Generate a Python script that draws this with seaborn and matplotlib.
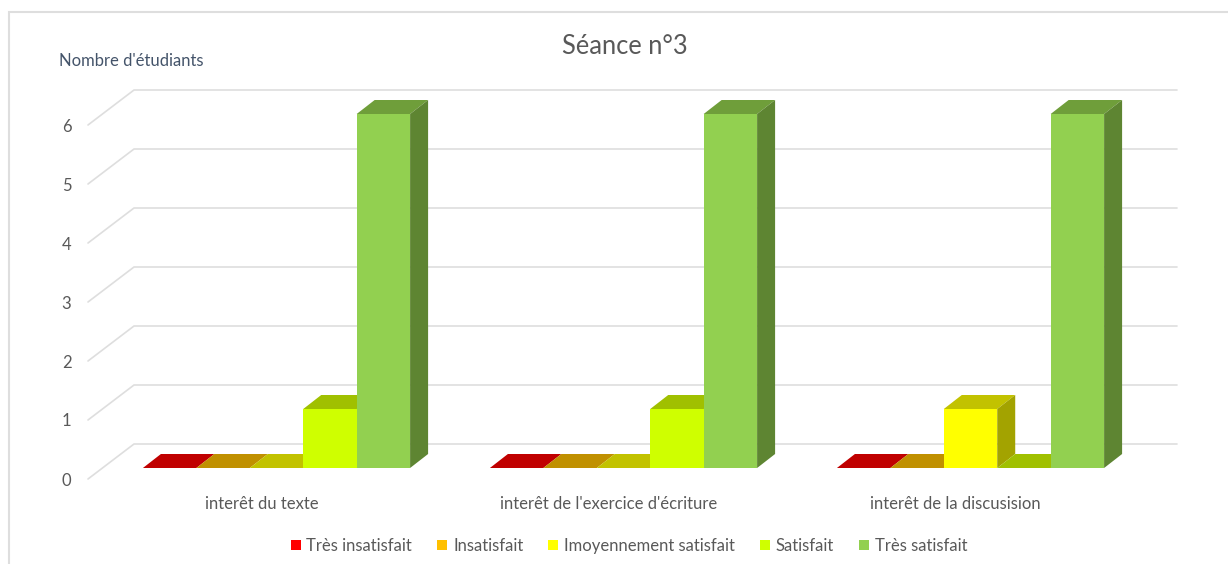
import matplotlib
matplotlib.use("Agg")
import matplotlib.pyplot as plt
from matplotlib.patches import Polygon, Rectangle
from matplotlib.transforms import Affine2D
import pandas as pd
import seaborn as sns

categories = ["interêt du texte", "interêt de l'exercice d'écriture", "interêt de la discusision"]
levels = ["Très insatisfait", "Insatisfait", "Imoyennement satisfait", "Satisfait", "Très satisfait"]
values_tres_insatisfait = [0, 0, 0]
values_insatisfait = [0, 0, 0]
values_moyen = [0, 0, 1]
values_satisfait = [1, 1, 0]
values_tres_satisfait = [6, 6, 6]
front_colors = ["#FF0000", "#FFC000", "#FFFF00", "#CFFF00", "#92D050"]
top_colors = ["#C00000", "#C09000", "#C2C200", "#A0C000", "#6F9E3A"]
side_colors = ["#9A0000", "#9A7400", "#A3A300", "#80A000", "#5E8532"]

W, H = 1228, 564
DPI = 100
sns.set_theme(style="white")
plt.rcParams["font.family"] = ["Lato", "DejaVu Sans"]
TXT = "#595959"

rows = []
for lvl, vals in zip(levels, [values_tres_insatisfait, values_insatisfait, values_moyen,
                              values_satisfait, values_tres_satisfait]):
    for c, v in zip(categories, vals):
        rows.append({"cat": c, "level": lvl, "n": v})
df = pd.DataFrame(rows)

fig = plt.figure(figsize=(W / DPI, H / DPI), dpi=DPI, facecolor="white")
# front plane of the value axis: x 88..1129, y=0 at px 479, y=6 at px 125
ax = fig.add_axes([88 / W, 1 - 479 / H, (1129 - 88) / W, (479 - 125) / H])
sns.barplot(df, x="cat", y="n", hue="level", order=categories, hue_order=levels,
            palette=front_colors, width=0.77, gap=0, saturation=1, ax=ax, legend=False)
ax.set_xlim(-0.5, 2.5)
ax.set_ylim(0, 6)
ax.set_xlabel("")
ax.set_ylabel("")
for s in ax.spines.values():
    s.set_visible(False)
ax.patch.set_visible(False)
ax.tick_params(axis="both", length=0, labelsize=12, labelcolor=TXT)
ax.tick_params(axis="x", pad=12)
ax.tick_params(axis="y", pad=12)
ax.set_yticks(range(7))
ax.grid(False)

# oblique projection, in pixels
bar_dx, bar_dy = 15, 11       # bars stand a little behind the front plane
depth_x, depth_y = 18, 14     # depth of a bar
wall_x, wall_y = 46, 35       # depth of the floor

to_bar = ax.transData + Affine2D().translate(bar_dx, bar_dy)
disp = Affine2D()

# gridlines: floor diagonal, then back wall
for v in range(7):
    x0, y0 = ax.transData.transform((-0.5, v))
    x1, _ = ax.transData.transform((2.5, v))
    ax.add_line(plt.Line2D([x0, x0 + wall_x, x1 + wall_x + 2], [y0, y0 + wall_y, y0 + wall_y],
                           transform=disp, color="#DEDEDE", lw=1.2, zorder=0.5, clip_on=False))

# 3D faces, derived from each bar drawn by seaborn
bars = [p for p in ax.patches if isinstance(p, Rectangle)]
bars = sorted(bars, key=lambda p: p.get_x())
color_index = {c: i for i, c in enumerate(front_colors)}
for order, p in enumerate(bars):
    rgb = matplotlib.colors.to_hex(p.get_facecolor()).upper()
    i = color_index[rgb]
    (xa, ya), (xb, yb) = ax.transData.transform([(p.get_x(), 0),
                                                (p.get_x() + p.get_width(), p.get_height())])
    xa += bar_dx; xb += bar_dx; ya += bar_dy; yb += bar_dy
    z = 2 + order * 0.01
    ax.add_patch(Polygon([(xa, yb), (xb, yb), (xb + depth_x, yb + depth_y), (xa + depth_x, yb + depth_y)],
                         closed=True, transform=disp, fc=top_colors[i], ec="none", zorder=z, clip_on=False))
    if p.get_height() > 0:
        ax.add_patch(Polygon([(xb, ya), (xb + depth_x, ya + depth_y), (xb + depth_x, yb + depth_y), (xb, yb)],
                             closed=True, transform=disp, fc=side_colors[i], ec="none", zorder=z, clip_on=False))
    p.set_transform(to_bar)
    p.set_clip_on(False)
    p.set_edgecolor("none")
    p.set_zorder(z + 0.001)

# frame
fig.add_artist(Rectangle((8.5 / W, -0.02), (W - 6) / W, 1 - 12 / H + 0.02, transform=fig.transFigure,
                         fc="none", ec="#DEDEDE", lw=1.5, zorder=-1))

fig.text(625 / W, 1 - 46 / H, "Séance n°3", ha="center", va="center", fontsize=18.4, color=TXT)
fig.text(59 / W, 1 - 61 / H, "Nombre d'étudiants", ha="left", va="center", fontsize=12, color="#44546A")

handles = [Rectangle((0, 0), 1, 1, fc=c, ec="none") for c in front_colors]
fig.legend(handles, levels, ncol=5, loc="center", bbox_to_anchor=(629 / W, 1 - 546 / H), frameon=False,
           fontsize=12, labelcolor=TXT, handlelength=0.6, handleheight=0.6, handletextpad=0.35,
           columnspacing=1.5, borderpad=0)

fig.savefig("out.png", dpi=DPI, facecolor="white")
